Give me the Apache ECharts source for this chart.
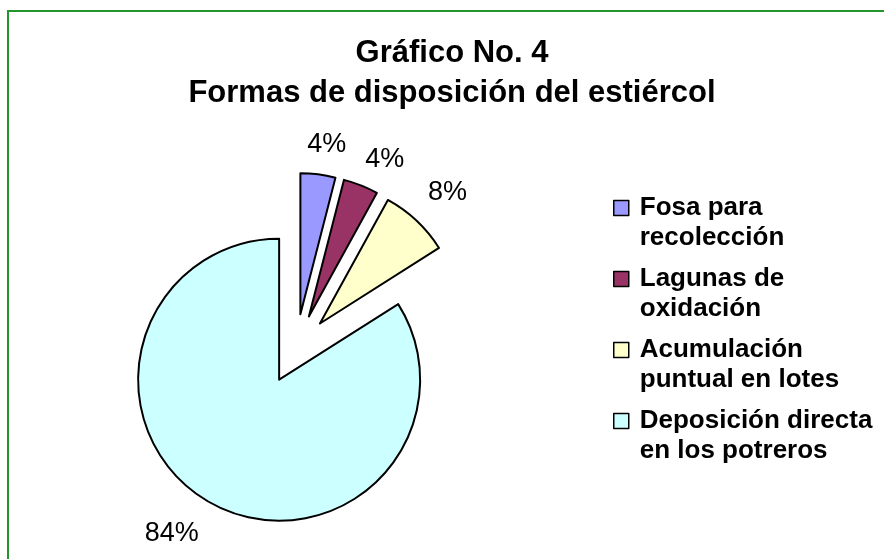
<!DOCTYPE html>
<html>
<head>
<meta charset="utf-8">
<script src="https://cdn.jsdelivr.net/npm/echarts@6/dist/echarts.min.js"></script>
<style>html,body{margin:0;padding:0;background:#fff;}#c{width:884px;height:559px;}</style>
</head>
<body>
<div id="c"></div>
<script>
const titleLines = ['Gráfico No. 4', 'Formas de disposición del estiércol'];
const categories = ['Fosa para recolección', 'Lagunas de oxidación', 'Acumulación puntual en lotes', 'Deposición directa en los potreros'];
const legendLabels = ['Fosa para\nrecolección', 'Lagunas de\noxidación', 'Acumulación\npuntual en lotes', 'Deposición directa\nen los potreros'];
const values = [4, 4, 8, 84];
const colors = ['#9999FF', '#993366', '#FFFFCC', '#CCFFFF'];

const chart = echarts.init(document.getElementById('c'), null, {renderer: 'canvas'});
const data = categories.map((n, i) => ({
  name: n,
  value: values[i],
  selected: true,
  itemStyle: {color: colors[i]},
  labelLine: {length: i === 2 ? 38 : 30}
}));

chart.setOption({
  animation: false,
  backgroundColor: '#ffffff',
  graphic: [{
    type: 'rect',
    shape: {x: 8, y: 11, width: 900, height: 600},
    style: {fill: 'none', stroke: '#22962A', lineWidth: 2},
    silent: true, z: 100
  }],
  title: {
    text: titleLines.join('\n'),
    left: 452,
    top: 33,
    padding: 0,
    textAlign: 'center',
    textStyle: {
      fontFamily: 'Liberation Sans, Arial, sans-serif',
      fontWeight: 'bold',
      fontSize: 31,
      lineHeight: 40,
      color: '#000'
    }
  },
  legend: {
    orient: 'vertical',
    left: 613,
    top: 163,
    padding: 0,
    itemWidth: 15,
    itemHeight: 15,
    itemGap: -19,
    icon: 'rect',
    selectedMode: false,
    formatter: name => ' \n' + legendLabels[categories.indexOf(name)],
    textStyle: {
      fontFamily: 'Liberation Sans, Arial, sans-serif',
      fontWeight: 'bold',
      fontSize: 26,
      lineHeight: 30,
      color: '#000',
      padding: [0, 0, 0, 6]
    },
    itemStyle: {borderColor: '#000', borderWidth: 1.5}
  },
  series: [{
    type: 'pie',
    center: [296, 349],
    radius: 141,
    startAngle: 90,
    clockwise: true,
    selectedMode: 'multiple',
    selectedOffset: 35,
    avoidLabelOverlap: false,
    itemStyle: {borderColor: '#000', borderWidth: 2},
    emphasis: {disabled: true},
    label: {
      show: true,
      position: 'outside',
      formatter: p => p.value + '%',
      fontFamily: 'Liberation Sans, Arial, sans-serif',
      fontSize: 27,
      color: '#000'
    },
    labelLine: {show: false, length: 30, length2: 0},
    labelLayout: p => {
      if (p.dataIndex === 1) return {align: 'center', dx: 8, dy: 2};
      if (p.dataIndex < 3) return {align: 'center'};
      return {dx: 7, dy: 4};
    },
    data: data
  }]
});
</script>
</body>
</html>
